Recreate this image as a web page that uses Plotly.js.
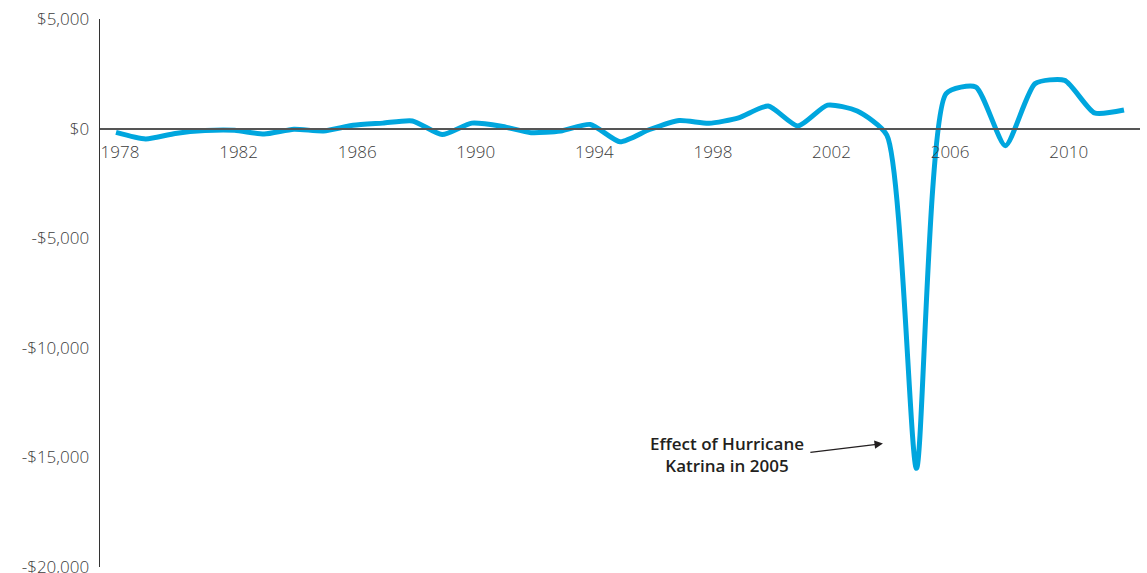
<!DOCTYPE html>
<html>
<head>
<meta charset="utf-8">
<script src="https://cdn.plot.ly/plotly-3.0.1.min.js"></script>
<style>
html,body{margin:0;padding:0;background:#fff;}
#chart{width:1147px;height:573px;}
</style>
</head>
<body>
<div id="chart"></div>
<script>
var years = [1978,1979,1980,1981,1982,1983,1984,1985,1986,1987,1988,1989,1990,1991,1992,1993,1994,1995,1996,1997,1998,1999,2000,2001,2002,2003,2004,2005,2006,2007,2008,2009,2010,2011,2012];
var values = [-170,-470,-220,-90,-80,-250,-30,-110,150,250,350,-270,250,110,-190,-110,190,-600,-40,370,240,490,1030,120,1070,800,-300,-15500,1600,1900,-780,2050,2200,720,850];
var xTickVals = [1978,1982,1986,1990,1994,1998,2002,2006,2010];
var xTickText = ['1978','1982','1986','1990','1994','1998','2002','2006','2010'];
var yTickVals = [5000,0,-5000,-10000,-15000,-20000];
var yTickText = ['$5,000','$0','-$5,000','-$10,000','-$15,000','-$20,000'];
var noteText = 'Effect of Hurricane<br>Katrina in 2005';

var font = {family:'Open Sans, Liberation Sans, sans-serif', size:17, color:'#3c3c3c', weight:300};

var trace = {
  x: years, y: values, type:'scatter', mode:'lines',
  line:{color:'#00a6de', width:5, shape:'spline', smoothing:0.6},
  hoverinfo:'skip'
};

var layout = {
  width:1147, height:573,
  margin:{l:100, r:7, t:19, b:6},
  paper_bgcolor:'#fff', plot_bgcolor:'#fff',
  showlegend:false,
  font:font,
  xaxis:{
    range:[1977.46, 2012.54],
    tickvals:xTickVals, ticktext:xTickText,
    showgrid:false, zeroline:false,
    showline:true, linecolor:'#555', linewidth:1.5,
    anchor:'free', position:0.801,
    ticks:'', ticklabelstandoff:8, ticklabelshift:4,
    tickfont:font, fixedrange:true
  },
  yaxis:{
    range:[-20000, 5000],
    tickvals:yTickVals, ticktext:yTickText,
    showgrid:false, zeroline:false,
    showline:true, linecolor:'#333', linewidth:1.5,
    ticks:'', ticklabelstandoff:6, ticklabeloverflow:'allow',
    tickfont:font, fixedrange:true
  },
  annotations:[
    {x:2003.87, y:-14370, xref:'x', yref:'y', ax:2001.37, ay:-14780, axref:'x', ayref:'y',
     text:'', showarrow:true, arrowhead:2, arrowsize:1.3, arrowwidth:1.3, arrowcolor:'#231f20'},
    {x:1998.61, y:-14870, xref:'x', yref:'y', text:noteText, showarrow:false,
     font:{family:'Open Sans, Liberation Sans, sans-serif', size:17, color:'#231f20', weight:600},
     align:'center', xanchor:'center', yanchor:'middle'}
  ]
};

Plotly.newPlot('chart', [trace], layout, {displayModeBar:false, staticPlot:true});
</script>
</body>
</html>
